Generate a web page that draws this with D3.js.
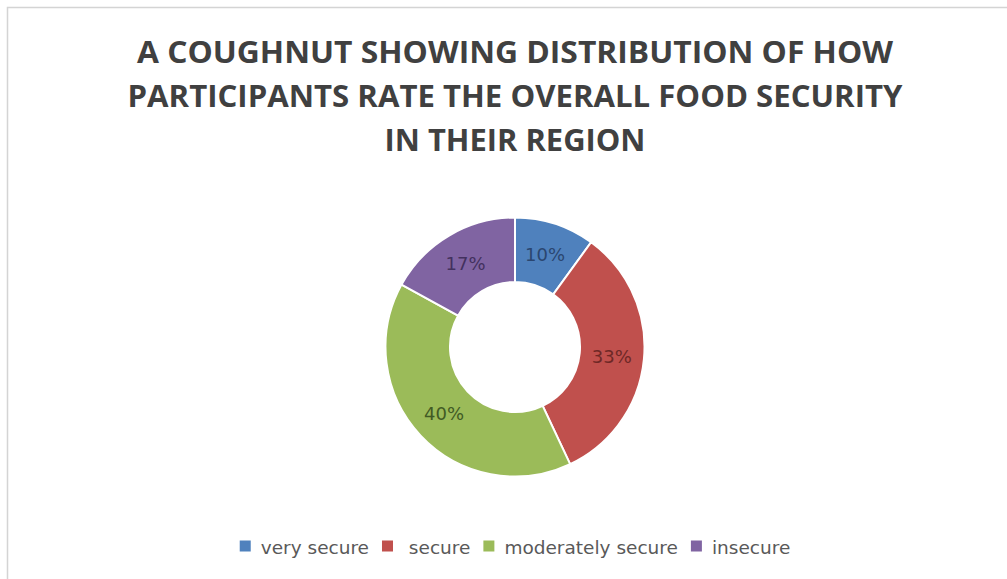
<!DOCTYPE html>
<html>
<head>
<meta charset="utf-8">
<script src="https://cdn.jsdelivr.net/npm/d3@7/dist/d3.min.js"></script>
<style>
  html, body { margin: 0; padding: 0; background: #ffffff; }
  svg { display: block; }
  .legend-label { white-space: pre; }
</style>
</head>
<body>
<svg id="chart" width="1007" height="579"></svg>
<script>
// Survey answers: how participants rate overall food security in their region
const categories = ["very secure", " secure", "moderately secure", "insecure"];
const shares = [10, 33, 40, 17];
const colors = ["#4f81bd", "#c0504d", "#9bbb59", "#8064a2"];
const labelColors = ["#2a4670", "#6e2826", "#415a24", "#43315e"];
const titleLines = [
  "A COUGHNUT SHOWING DISTRIBUTION OF HOW",
  "PARTICIPANTS RATE THE OVERALL FOOD SECURITY",
  "IN THEIR REGION"
];
const titleWidths = [756, 775, 261];

const W = 1007, H = 579;
const svg = d3.select("#chart");

// chart area frame
svg.append("path")
  .attr("d", `M7.5,${H} V7.5 H${W}`)
  .attr("fill", "none")
  .attr("stroke", "#d4d4d4")
  .attr("stroke-width", 1.5);

// title
const cx = 515;
svg.append("g").selectAll("text")
  .data(titleLines)
  .join("text")
  .attr("x", cx)
  .attr("y", (d, i) => 63 + i * 44)
  .attr("text-anchor", "middle")
  .attr("font-family", "'Open Sans', 'DejaVu Sans', sans-serif")
  .attr("font-weight", "bold")
  .attr("font-size", 29.5)
  .attr("fill", "#404040")
  .attr("textLength", (d, i) => titleWidths[i])
  .attr("lengthAdjust", "spacingAndGlyphs")
  .text(d => d);

// doughnut
const center = [515, 347];
const outerR = 129.5, innerR = 65;
const pie = d3.pie().sort(null).value(d => d)(shares);
const arc = d3.arc().innerRadius(innerR).outerRadius(outerR);
const labelArc = d3.arc().innerRadius((innerR + outerR) / 2).outerRadius((innerR + outerR) / 2);

const g = svg.append("g").attr("transform", `translate(${center[0]},${center[1]})`);
g.selectAll("path")
  .data(pie)
  .join("path")
  .attr("d", arc)
  .attr("fill", (d, i) => colors[i])
  .attr("stroke", "#ffffff")
  .attr("stroke-width", 2);

g.selectAll("text")
  .data(pie)
  .join("text")
  .attr("transform", d => `translate(${labelArc.centroid(d)})`)
  .attr("text-anchor", "middle")
  .attr("dominant-baseline", "central")
  .attr("font-family", "'DejaVu Sans', sans-serif")
  .attr("font-size", 18)
  .attr("fill", (d, i) => labelColors[i])
  .text(d => d.data + "%");

// legend, centred beneath the ring
const legend = svg.append("g").attr("font-family", "'DejaVu Sans', sans-serif")
  .attr("font-size", 18.5).attr("fill", "#595959");
const sw = 11, gapAfterSwatch = 10, gapBetween = 13;
const items = legend.selectAll("g")
  .data(categories)
  .join("g");
items.append("rect")
  .attr("width", sw).attr("height", sw)
  .attr("y", -sw / 2 - 1)
  .attr("fill", (d, i) => colors[i]);
const texts = items.append("text")
  .attr("class", "legend-label")
  .attr("xml:space", "preserve")
  .attr("x", sw + gapAfterSwatch)
  .attr("dominant-baseline", "central")
  .text(d => d);
const widths = texts.nodes().map(n => n.getComputedTextLength());
const itemW = widths.map(w => sw + gapAfterSwatch + w);
const total = d3.sum(itemW) + gapBetween * (categories.length - 1);
let xPos = cx - total / 2;
const offsets = itemW.map(w => { const o = xPos; xPos += w + gapBetween; return o; });
items.attr("transform", (d, i) => `translate(${offsets[i]},547)`);
</script>
</body>
</html>
